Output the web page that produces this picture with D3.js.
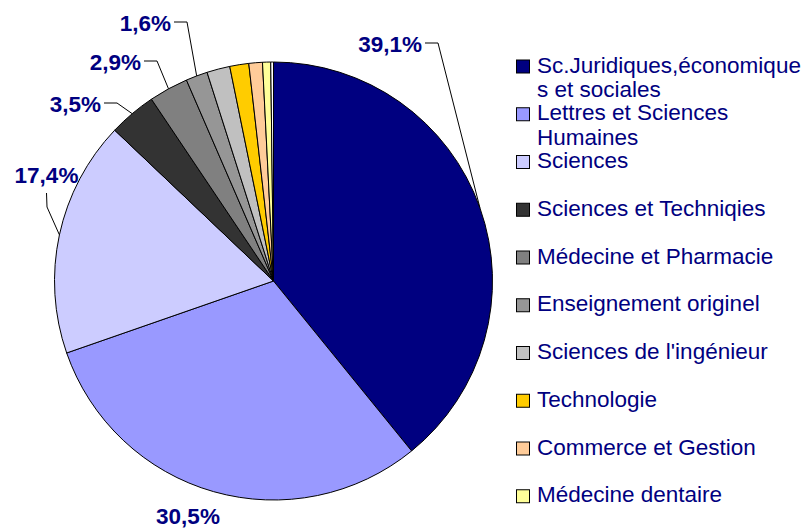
<!DOCTYPE html>
<html>
<head>
<meta charset="utf-8">
<script src="https://cdn.jsdelivr.net/npm/d3@7/dist/d3.min.js"></script>
<style>
  html, body { margin: 0; padding: 0; background: #fff; }
  svg { display: block; }
</style>
</head>
<body>
<svg id="chart" width="809" height="529"></svg>
<script>
// Répartition des étudiants par domaine d'études (%)
const categories = [
  "Sc.Juridiques,économiques et sociales",
  "Lettres et Sciences Humaines",
  "Sciences",
  "Sciences et Techniqies",
  "Médecine et Pharmacie",
  "Enseignement originel",
  "Sciences de l'ingénieur",
  "Technologie",
  "Commerce et Gestion",
  "Médecine dentaire",
  "Autres"
];
const values = [39.1, 30.5, 17.4, 3.5, 2.9, 1.6, 1.7, 1.4, 1.0, 0.6, 0.2];
const colors = [
  "#000080", "#9999FF", "#CCCCFF", "#333333", "#808080", "#969696",
  "#C0C0C0", "#FFCC00", "#FFCC99", "#FFFF99", "#FFFFFF"
];
// Only the first slices carry a value label
const labelledSlices = [0, 1, 2, 3, 4, 5];
const legendEntries = 10;

const svg = d3.select("#chart");
const cx = 273.5, cy = 281, R = 219;
const navy = "#000080";
const font = "'Liberation Sans', Arial, sans-serif";

const pie = d3.pie().sort(null).value(d => d)(values);
const arc = d3.arc().innerRadius(0).outerRadius(R);

const g = svg.append("g").attr("transform", `translate(${cx},${cy})`);

g.selectAll("path.slice")
  .data(pie)
  .join("path")
  .attr("class", "slice")
  .attr("d", arc)
  .attr("fill", (d, i) => colors[i])
  .attr("stroke", "#000")
  .attr("stroke-width", 1)
  .attr("stroke-linejoin", "round");

// Label placement relative to the pie centre: anchor point, text-anchor, leader style
const labelLayout = {
  0: { dx: 148.5, dy: -229, anchor: "end", leader: "side" },
  1: { dx: -85.5, dy: 243, anchor: "middle", leader: "none" },
  2: { dx: -227, dy: -98, anchor: "middle", leader: "below" },
  3: { dx: -172.5, dy: -169, anchor: "end", leader: "side" },
  4: { dx: -132.5, dy: -211, anchor: "end", leader: "side" },
  5: { dx: -102.5, dy: -250, anchor: "end", leader: "side" }
};

const fmt = v => v.toFixed(1).replace(".", ",") + "%";

labelledSlices.forEach(i => {
  const d = pie[i];
  const L = labelLayout[i];
  const mid = (d.startAngle + d.endAngle) / 2;
  const ax = R * Math.sin(mid), ay = -R * Math.cos(mid);
  let pts = null;
  if (L.leader === "side") {
    pts = [[L.dx + 3, L.dy - 9], [L.dx + 16, L.dy - 9], [ax, ay]];
  } else if (L.leader === "below") {
    pts = [[L.dx, L.dy + 10], [L.dx + 0.5, L.dy + 24], [ax, ay]];
  }
  if (pts) {
    g.append("path")
      .attr("d", d3.line()(pts))
      .attr("fill", "none")
      .attr("stroke", "#000")
      .attr("stroke-width", 1);
  }
  g.append("text")
    .attr("x", L.dx)
    .attr("y", L.dy)
    .attr("text-anchor", L.anchor)
    .attr("font-family", font)
    .attr("font-weight", "bold")
    .attr("font-size", "22.5px")
    .attr("fill", navy)
    .text(fmt(values[i]));
});

// Legend
const legendX = 516, textX = 537, maxW = 270, lineH = 24.5;
const ly = d3.scaleLinear().domain([0, legendEntries - 1]).range([72.5, 502.25]);
const legend = svg.append("g");

// greedy wrap; words longer than the box are broken by character
const measurer = svg.append("text")
  .attr("font-family", font).attr("font-size", "22.5px")
  .attr("visibility", "hidden");
function width(s) { measurer.text(s); return measurer.node().getComputedTextLength(); }
function wrap(str) {
  const words = str.split(" ");
  const lines = [];
  let cur = "";
  words.forEach(w => {
    const trial = cur ? cur + " " + w : w;
    if (width(trial) <= maxW) { cur = trial; return; }
    if (cur) { lines.push(cur); cur = ""; }
    let piece = "";
    for (const ch of w) {
      if (width(piece + ch) > maxW && piece) { lines.push(piece); piece = ch; }
      else piece += ch;
    }
    cur = piece;
  });
  if (cur) lines.push(cur);
  return lines;
}

categories.slice(0, legendEntries).forEach((name, i) => {
  const y = ly(i);
  legend.append("rect")
    .attr("x", legendX + 0.5).attr("y", y - 12.5)
    .attr("width", 13).attr("height", 13)
    .attr("fill", colors[i])
    .attr("stroke", "#000").attr("stroke-width", 1);
  const t = legend.append("text")
    .attr("font-family", font).attr("font-size", "22.5px")
    .attr("fill", navy);
  wrap(name).forEach((line, k) => {
    t.append("tspan").attr("x", textX).attr("y", y + k * lineH).text(line);
  });
});
measurer.remove();
</script>
</body>
</html>
